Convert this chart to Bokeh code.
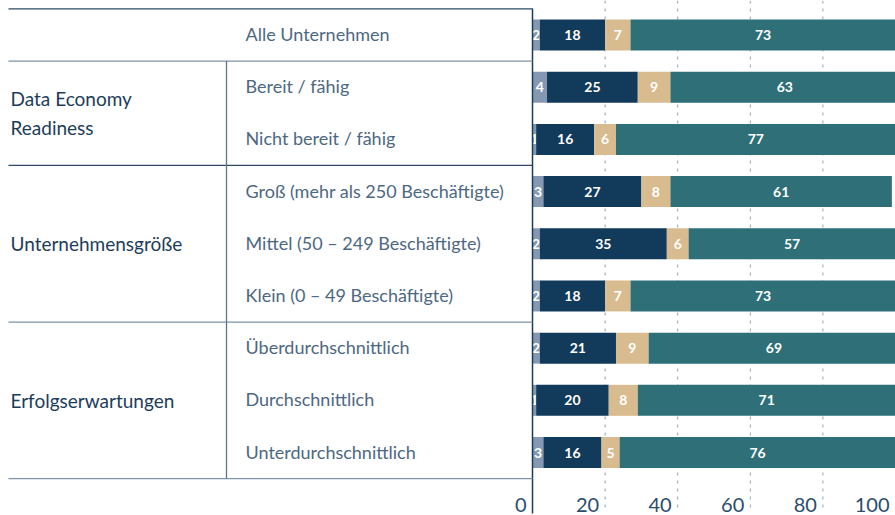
from bokeh.plotting import figure
from bokeh.models import ColumnDataSource, Range1d
from bokeh.core.properties import value
from bokeh.embed import file_html
from bokeh.resources import INLINE

# ---------------- data ----------------
categories = ["Alle Unternehmen", "Bereit / fähig", "Nicht bereit / fähig",
              "Groß (mehr als 250 Beschäftigte)", "Mittel (50 – 249 Beschäftigte)",
              "Klein (0 – 49 Beschäftigte)", "Überdurchschnittlich",
              "Durchschnittlich", "Unterdurchschnittlich"]
groups = ["", "Data Economy\nReadiness", "Unternehmensgröße", "Erfolgserwartungen"]
group_rows = [(0, 1), (1, 3), (3, 6), (6, 9)]
s1 = [2, 4, 1, 3, 2, 2, 2, 1, 3]
s2 = [18, 25, 16, 27, 35, 18, 21, 20, 16]
s3 = [7, 9, 6, 8, 6, 7, 9, 8, 5]
s4 = [73, 63, 77, 61, 57, 73, 69, 71, 76]
series = [s1, s2, s3, s4]
colors = ["#8499b1", "#123a5b", "#d8bc8f", "#2e6f78"]
tick_values = [0, 20, 40, 60, 80, 100]
tick_labels = ["0", "20", "40", "60", "80", "100"]

FONT = "Lato"
W, H = 895, 515
X0 = 532.0
PX = (W - X0) / 100.0          # pixels per percent
ROW = 52.19                    # pixels per row
TOP = 8.4

def dx(px):
    return (px - X0) / PX

def dy(px):
    return (px - TOP) / ROW

p = figure(width=W, height=H, output_backend="svg", toolbar_location=None,
           x_range=Range1d(dx(0), dx(W)), y_range=Range1d(dy(H), dy(0)),
           x_axis_location=None, y_axis_location=None, min_border=0)
p.outline_line_color = None
p.xgrid.visible = False
p.ygrid.visible = False

n = len(categories)
ys = [i + 0.5 for i in range(n)]

# grid lines
p.segment(x0=tick_values[1:], x1=tick_values[1:], y0=[dy(0)] * 5, y1=[dy(512)] * 5,
          line_color="#8fa3ba", line_width=1, line_dash="3 5")

# stacked bars
left = [0] * n
for vals, col in zip(series, colors):
    right = [l + v for l, v in zip(left, vals)]
    src = ColumnDataSource(dict(y=ys, left=left, right=right,
                                mid=[(l + r) / 2 for l, r in zip(left, right)],
                                lab=[str(v) for v in vals]))
    p.hbar(y="y", left="left", right="right", height=31 / ROW, source=src,
           fill_color=col, line_color=None)
    p.text(x="mid", y="y", text="lab", source=src, text_align="center",
           text_baseline="middle", text_color="white", text_font=value(FONT),
           text_font_size="14px", text_font_style="bold")
    left = right

# zero line
p.segment(x0=[0], x1=[0], y0=[dy(8)], y1=[dy(513)], line_color="#1c3d5a", line_width=1.5)

# table lines
p.segment(x0=[dx(8)], x1=[0], y0=[0], y1=[0], line_color="#2b4a68", line_width=1.3)
bounds = [g[1] for g in group_rows]
bcols = ["#7d93aa", "#2b4a68", "#7d93aa", "#7d93aa"]
p.segment(x0=[dx(8)] * 4, x1=[0] * 4, y0=bounds, y1=bounds, line_color=bcols, line_width=1.3)
p.segment(x0=[dx(226)], x1=[dx(226)], y0=[1], y1=[n], line_color="#5d7590", line_width=1.3)

# category labels
p.text(x=[dx(245)] * n, y=ys, text=categories, text_align="left", text_baseline="middle",
       y_offset=-1, text_color="#4d6882", text_font=value(FONT), text_font_size="18px")

# group labels
gy = [(a + b) / 2 for a, b in group_rows[1:]]
p.text(x=[dx(10)] * 3, y=gy, text=groups[1:], text_align="left", text_baseline="middle",
       text_color="#1c3d5a", text_font=value(FONT), text_font_size="19px",
       text_line_height=1.25)

# tick labels
p.text(x=tick_values, y=[dy(504)] * len(tick_values), text=tick_labels,
       text_align="right", text_baseline="middle", x_offset=-6,
       text_color="#2a4d6e", text_font=value(FONT), text_font_size="20px")

open("out.html", "w").write(file_html(p, INLINE))
